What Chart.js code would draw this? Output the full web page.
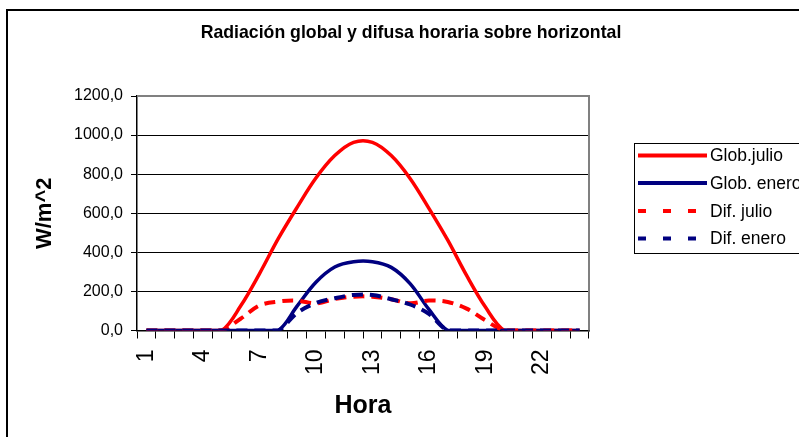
<!DOCTYPE html>
<html>
<head>
<meta charset="utf-8">
<script src="https://cdn.jsdelivr.net/npm/chart.js@4/dist/chart.umd.min.js"></script>
<style>
  html, body { margin: 0; padding: 0; background: #fff; overflow: hidden; }
  canvas { display: block; }
</style>
</head>
<body>
<canvas id="grafico" width="799" height="437"></canvas>
<script>
// Horas del día (categorías del eje X)
const horas = ['1','2','3','4','5','6','7','8','9','10','11','12',
               '13','14','15','16','17','18','19','20','21','22','23','24'];

// Radiación horaria sobre superficie horizontal (W/m^2)
const globJulio = [0,0,0,0,0,125,290,470,630,780,895,963,963,895,778,625,462,282,120,0,0,0,0,0];
const globEnero = [0,0,0,0,0,0,0,0,125,247,325,352,352,323,240,108,0,0,0,0,0,0,0,0];
const difJulio  = [0,0,0,0,0,60,128,148,153,139,161,173,173,160,139,153,146,112,52,0,0,0,0,0];
const difEnero  = [0,0,0,0,0,0,0,0,90,141,165,182,182,160,133,85,0,0,0,0,0,0,0,0];

// Marcas del eje Y
const marcasY = [0, 200, 400, 600, 800, 1000, 1200];

const ROJO = '#ff0000';
const AZUL = '#000080';
const FUENTE = '"Liberation Sans", Arial, sans-serif';

Chart.defaults.font.family = FUENTE;
Chart.defaults.color = '#000';

function serie(label, data, color, dash, width, order) {
  return {
    label, data,
    borderColor: color,
    backgroundColor: color,
    borderWidth: width,
    borderDash: dash,
    borderCapStyle: 'butt',
    pointRadius: 0,
    pointHoverRadius: 0,
    tension: 0.35,
    fill: false,
    order
  };
}

// Marco del gráfico, título, borde del área de trazado y leyenda
const decoracion = {
  id: 'decoracion',
  beforeDraw(chart) {
    const ctx = chart.ctx;
    ctx.save();
    ctx.fillStyle = '#fff';
    ctx.fillRect(0, 0, chart.width, chart.height);
    ctx.restore();
  },
  afterDraw(chart) {
    const ctx = chart.ctx;
    const a = chart.chartArea;
    ctx.save();

    // marco exterior
    ctx.strokeStyle = '#000';
    ctx.lineWidth = 2;
    ctx.beginPath();
    ctx.moveTo(7, chart.height);
    ctx.lineTo(7, 10);
    ctx.lineTo(chart.width, 10);
    ctx.stroke();

    // borde superior y derecho del área de trazado
    ctx.strokeStyle = '#808080';
    ctx.lineWidth = 2;
    ctx.beginPath();
    ctx.moveTo(a.left, a.top);
    ctx.lineTo(a.right, a.top);
    ctx.lineTo(a.right, a.bottom);
    ctx.stroke();

    // título
    ctx.fillStyle = '#000';
    ctx.font = 'bold 17.7px ' + FUENTE;
    ctx.textAlign = 'center';
    ctx.textBaseline = 'alphabetic';
    ctx.fillText('Radiación global y difusa horaria sobre horizontal', 411, 37.5);

    // leyenda
    ctx.strokeStyle = '#000';
    ctx.lineWidth = 1;
    ctx.setLineDash([]);
    ctx.strokeRect(634.5, 143.5, 200, 110);
    const filas = [155.5, 183, 211, 238.5];
    chart.data.datasets.forEach((ds, i) => {
      const y = filas[i];
      ctx.strokeStyle = ds.borderColor;
      ctx.lineWidth = 4;
      ctx.lineCap = 'butt';
      ctx.setLineDash(ds.borderDash.length ? [8, 17] : []);
      ctx.beginPath();
      ctx.moveTo(638, y);
      ctx.lineTo(707, y);
      ctx.stroke();
      ctx.setLineDash([]);
      ctx.fillStyle = '#000';
      ctx.font = '17.5px ' + FUENTE;
      ctx.textAlign = 'left';
      ctx.textBaseline = 'middle';
      ctx.fillText(ds.label, 710, y + 1);
    });
    ctx.restore();
  }
};

new Chart(document.getElementById('grafico'), {
  type: 'line',
  data: {
    labels: horas,
    datasets: [
      serie('Glob.julio',  globJulio, ROJO, [],      3.5, 3),
      serie('Glob. enero', globEnero, AZUL, [],      3.5, 2),
      serie('Dif. julio',  difJulio,  ROJO, [11, 7], 4,   1),
      serie('Dif. enero',  difEnero,  AZUL, [11, 7], 4,   0)
    ]
  },
  options: {
    responsive: false,
    animation: false,
    layout: { padding: { top: 96, right: 210, left: 0, bottom: 0 } },
    plugins: {
      legend: { display: false },
      tooltip: { enabled: false },
      title: { display: false }
    },
    scales: {
      x: {
        type: 'category',
        offset: true,
        grid: {
          offset: true,
          drawOnChartArea: false,
          drawTicks: true,
          tickLength: 8,
          color: '#000',
          lineWidth: 1
        },
        border: { color: '#000', width: 1.5 },
        ticks: {
          autoSkip: false,
          minRotation: 90,
          maxRotation: 90,
          padding: 11,
          color: '#000',
          font: { size: 23 },
          callback: (v, i) => (i % 3 === 0 ? horas[i] : '')
        },
        title: {
          display: true,
          text: 'Hora',
          color: '#000',
          font: { size: 25, weight: 'bold' },
          padding: { top: 0, bottom: 16 }
        },
        afterFit: s => { s.height = 106.5; }
      },
      y: {
        min: marcasY[0],
        max: marcasY[marcasY.length - 1],
        afterBuildTicks: s => { s.ticks = marcasY.map(v => ({ value: v })); },
        grid: { color: '#000', lineWidth: 1, tickLength: 6 },
        border: { color: '#000', width: 1.5 },
        ticks: {
          padding: 8,
          color: '#000',
          font: { size: 16 },
          callback: v => v.toFixed(1).replace('.', ',')
        },
        title: {
          display: true,
          text: 'W/m^2',
          color: '#000',
          font: { size: 22, weight: 'bold' },
          padding: { top: 32, bottom: 0 }
        },
        afterFit: s => { s.width = 137; }
      }
    }
  },
  plugins: [decoracion]
});
</script>
</body>
</html>
